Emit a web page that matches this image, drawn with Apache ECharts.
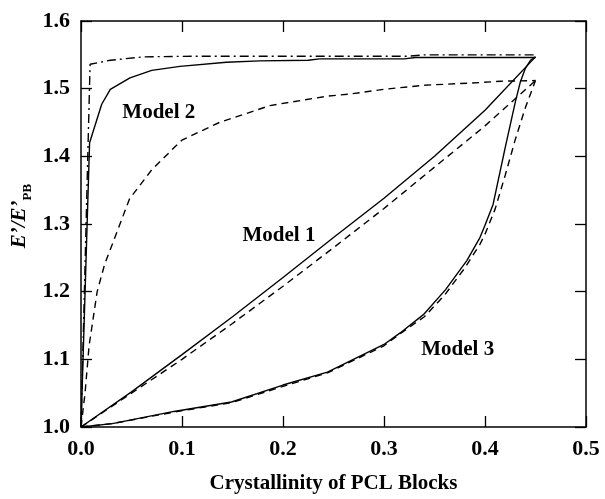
<!DOCTYPE html>
<html>
<head>
<meta charset="utf-8">
<script src="https://cdn.jsdelivr.net/npm/echarts@6/dist/echarts.min.js"></script>
<style>html,body{margin:0;padding:0;background:#fff;}#c{width:605px;height:499px;}</style>
</head>
<body>
<div id="c"></div>
<script>
// ---- data (x = crystallinity, y = E'/E'PB) ----
var model1Solid = [[0,1.0],[0.05,1.052],[0.1,1.107],[0.15,1.163],[0.2,1.221],[0.25,1.28],[0.3,1.338],[0.35,1.40],[0.4,1.468],[0.45,1.547]];
var model1Dash  = [[0,1.0],[0.05,1.05],[0.1,1.10],[0.15,1.153],[0.2,1.208],[0.25,1.265],[0.3,1.323],[0.35,1.384],[0.4,1.445],[0.45,1.512]];
var model2Solid = [[0,1.0],[0.0085,1.42],[0.0205,1.477],[0.029,1.499],[0.0485,1.516],[0.07,1.527],[0.098,1.533],[0.144,1.539],[0.177,1.541],[0.225,1.542],[0.236,1.544],[0.32,1.544],[0.331,1.546],[0.45,1.546]];
var model2DashDot = [[0,1.0],[0.009,1.536],[0.029,1.542],[0.062,1.547],[0.111,1.548],[0.2,1.548],[0.325,1.548],[0.34,1.550],[0.45,1.550]];
var model2Dash  = [[0,1.0],[0.004,1.05],[0.008,1.12],[0.016,1.2],[0.0235,1.241],[0.031,1.27],[0.048,1.337],[0.07,1.38],[0.093,1.414],[0.1,1.424],[0.137,1.45],[0.187,1.475],[0.244,1.489],[0.266,1.492],[0.3,1.499],[0.339,1.505],[0.395,1.509],[0.415,1.511],[0.45,1.512]];
var model3Solid = [[0,1.0],[0.031,1.005],[0.092,1.023],[0.149,1.037],[0.2,1.062],[0.244,1.081],[0.3,1.122],[0.316,1.139],[0.339,1.166],[0.361,1.203],[0.382,1.246],[0.395,1.28],[0.4,1.298],[0.408,1.329],[0.42,1.413],[0.43,1.48],[0.435,1.51],[0.44,1.53],[0.445,1.542],[0.45,1.547]];
var model3Dash  = [[0,1.0],[0.031,1.005],[0.092,1.022],[0.149,1.036],[0.2,1.06],[0.244,1.08],[0.3,1.12],[0.316,1.138],[0.34,1.163],[0.36,1.195],[0.38,1.235],[0.395,1.27],[0.4,1.285],[0.41,1.322],[0.42,1.372],[0.43,1.425],[0.44,1.472],[0.45,1.512]];
var labelX = [0.077, 0.196, 0.373];
var labelY = [1.464, 1.283, 1.115];
var labelText = ['Model 2', 'Model 1', 'Model 3'];
var xTicks = [0,0.1,0.2,0.3,0.4,0.5];
var yTicks = [1.0,1.1,1.2,1.3,1.4,1.5,1.6];

var FONT = 'Liberation Serif';
var chart = echarts.init(document.getElementById('c'), null, {renderer:'canvas'});
function lineSeries(data, type) {
  var ls = {color:'#000', width:1.4, type:'solid'};
  if (type === 'dash') { ls.type = [7,5]; }
  if (type === 'dashdot') { ls.type = [9,4,2,4]; }
  return {type:'line', data:data, showSymbol:false, symbol:'none', lineStyle:ls, animation:false, z:3, xAxisIndex:0, yAxisIndex:0, silent:true};
}
var axisLineStyle = {show:true, onZero:false, lineStyle:{color:'#000', width:1.5}};
var tickStyle = {show:true, inside:true, length:11, lineStyle:{color:'#000', width:1.3}};
var option = {
  backgroundColor:'#fff',
  animation:false,
  grid:{left:81, right:19, top:21, bottom:67, containLabel:false},
  xAxis:[{
    type:'value', min:xTicks[0], max:xTicks[xTicks.length-1], interval:0.1, position:'bottom',
    axisLine:axisLineStyle, axisTick:tickStyle, splitLine:{show:false},
    axisLabel:{color:'#000', fontFamily:FONT, fontWeight:'bold', fontSize:22, margin:11, formatter:function(v){return v.toFixed(1);}},
    name:'Crystallinity of PCL Blocks', nameLocation:'middle', nameGap:46,
    nameTextStyle:{color:'#000', fontFamily:FONT, fontWeight:'bold', fontSize:21}
  },{
    type:'value', min:0, max:0.5, interval:0.1, position:'top',
    axisLine:axisLineStyle, axisTick:tickStyle, axisLabel:{show:false}, splitLine:{show:false}
  }],
  yAxis:[{
    type:'value', min:yTicks[0], max:yTicks[yTicks.length-1], interval:0.1, position:'left',
    axisLine:axisLineStyle, axisTick:tickStyle, splitLine:{show:false},
    axisLabel:{color:'#000', fontFamily:FONT, fontWeight:'bold', fontSize:22, margin:11, formatter:function(v){return v.toFixed(1);}}
  },{
    type:'value', min:1.0, max:1.6, interval:0.1, position:'right',
    axisLine:axisLineStyle, axisTick:tickStyle, axisLabel:{show:false}, splitLine:{show:false}
  }],
  series:[
    lineSeries(model1Solid,'solid'),
    lineSeries(model1Dash,'dash'),
    lineSeries(model2Solid,'solid'),
    lineSeries(model2DashDot,'dashdot'),
    lineSeries(model2Dash,'dash'),
    lineSeries(model3Solid,'solid'),
    lineSeries(model3Dash,'dash')
  ]
};
chart.setOption(option);

var graphics = [{
  type:'text', x:20, y:216, rotation:Math.PI/2, silent:true,
  style:{
    text:'{a|E’/E’}{b|PB}', align:'center', verticalAlign:'middle',
    rich:{
      a:{fill:'#000', fontFamily:FONT, fontWeight:'bold', fontStyle:'italic', fontSize:21, verticalAlign:'bottom'},
      b:{fill:'#000', fontFamily:FONT, fontWeight:'bold', fontSize:13, verticalAlign:'bottom', padding:[0,0,-4,0]}
    }
  }
}];
for (var i = 0; i < labelText.length; i++) {
  var p = chart.convertToPixel({xAxisIndex:0, yAxisIndex:0}, [labelX[i], labelY[i]]);
  graphics.push({
    type:'text', x:p[0], y:p[1], silent:true, z:10,
    style:{text:labelText[i], fill:'#000', font:'bold 21px "Liberation Serif"', align:'center', verticalAlign:'middle'}
  });
}
chart.setOption({graphic:graphics});
</script>
</body>
</html>
